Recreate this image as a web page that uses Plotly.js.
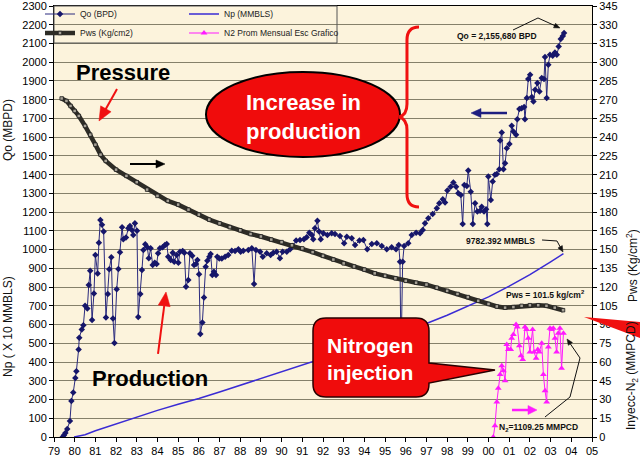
<!DOCTYPE html>
<html><head><meta charset="utf-8">
<script src="https://cdn.plot.ly/plotly-3.0.1.min.js"></script>
<style>html,body{margin:0;padding:0;background:#fff;}#chart{width:640px;height:458px;}</style>
</head><body><div id="chart"></div>
<script>
// ---- data (years as yy since 1900, e.g. 100.5 = mid 2000) ----
const xTickVals = [79,80,81,82,83,84,85,86,87,88,89,90,91,92,93,94,95,96,97,98,99,100,101,102,103,104,105];
const xTickText = ['79','80','81','82','83','84','85','86','87','88','89','90','91','92','93','94','95','96','97','98','99','00','01','02','03','04','05'];

// Qo (MBPD), left axis
const qoYear = [79.42,79.48,79.55,79.64,79.77,79.84,79.93,80.03,80.08,80.19,
80.22,80.34,80.42,80.50,80.61,80.68,80.75,80.84,80.93,81.00,
81.11,81.17,81.24,81.32,81.40,81.51,81.60,81.67,81.77,81.85,
81.92,82.03,82.11,82.19,82.29,82.35,82.48,82.59,82.67,82.76,
82.83,82.91,83.01,83.07,83.17,83.25,83.32,83.41,83.51,83.58,
83.67,83.77,83.87,83.96,84.03,84.12,84.25,84.36,84.45,84.52,
84.64,84.74,84.81,84.93,85.01,85.09,85.22,85.30,85.38,85.49,
85.57,85.68,85.77,85.86,85.93,86.01,86.07,86.17,86.25,86.33,
86.41,86.51,86.57,86.65,86.73,86.83,86.89,86.99,87.11,87.27,
87.42,87.59,87.75,87.91,88.02,88.15,88.39,88.56,88.67,88.76,
88.96,89.09,89.28,89.47,89.60,89.76,89.92,90.05,90.25,90.41,
90.54,90.70,90.89,91.08,91.21,91.34,91.46,91.53,91.61,91.73,
91.81,91.89,92.02,92.21,92.42,92.58,92.82,93.02,93.15,93.39,
93.55,93.76,93.95,94.14,94.36,94.60,94.84,95.08,95.32,95.53,
95.66,95.72,95.77,95.85,95.92,96.12,96.29,96.50,96.69,96.82,
96.93,97.09,97.30,97.50,97.62,97.79,97.90,98.01,98.17,98.30,
98.43,98.54,98.66,98.75,98.83,98.95,99.02,99.14,99.24,99.35,
99.46,99.59,99.67,99.78,99.88,99.94,99.99,100.11,100.20,100.31,
100.40,100.52,100.56,100.64,100.72,100.80,100.88,101.01,101.12,101.20,
101.33,101.39,101.49,101.60,101.72,101.76,101.85,101.92,102.01,102.09,
102.17,102.25,102.36,102.46,102.57,102.68,102.73,102.81,102.89,102.97,
103.10,103.21,103.30,103.39,103.49,103.59,103.65];
const qoVal = [0,9,21,43,86,192,237,315,351,467,
529,574,597,700,686,811,887,624,766,971,
873,1037,1158,1132,1096,638,763,895,959,633,
502,788,896,986,1119,1055,1064,1114,1126,1105,
1078,1141,1101,641,763,891,998,1028,1012,954,
1007,918,930,923,980,1007,1012,1025,1030,962,
944,983,935,971,930,989,993,983,802,838,
980,967,918,923,944,868,549,611,745,909,
941,962,976,864,882,864,962,953,953,962,
971,994,993,1002,989,994,998,1007,816,998,
989,962,980,971,983,989,954,989,989,1002,
1019,1048,1051,1055,1066,1090,1078,1055,1114,1154,
1096,1055,1087,1078,1087,1083,1073,1034,1069,1060,
1025,1048,1051,1002,1030,1034,1019,1002,1012,1002,
1025,935,420,935,1019,1034,1078,1090,1087,1105,
1141,1167,1190,1221,1247,1269,1251,1315,1336,1358,
1336,1301,1292,1137,1345,1340,1422,1309,1137,1247,
1203,1208,1229,1203,1215,1137,1390,1265,1363,1399,
1404,1429,1582,1625,1429,1461,1541,1564,1661,1630,
1613,1696,1750,1755,1761,1696,1809,1910,1933,1814,
1790,1853,1889,1844,1916,1910,2028,1809,1987,2040,
2035,2052,2040,2084,2124,2140,2156];

// Np (x 10 MMBLS), left axis
const npYear = [79.97,80.5,81.0,82.0,83.0,84.0,85.0,86.0,87.0,88.0,89.0,90.0,91.0,92.0,93.0,94.0,95.0,96.0,97.0,98.0,99.0,100.0,101.0,102.0,103.0,103.62];
const npVal  = [0,12,33,70,106,142,175,205,240,276,312,346,380,418,456,494,532,570,606,650,697,748,805,866,935,978];

// Pws (Kg/cm2), right axis
const pwsYear = [79.37,79.6,79.8,80.0,80.2,80.5,80.75,81.0,81.25,81.5,82.0,82.5,83.0,83.5,84.0,84.5,85.0,85.5,86.0,86.5,87.0,87.5,88.0,88.5,89.0,89.5,90.0,90.5,91.0,91.5,92.0,92.5,93.0,93.5,94.0,94.5,95.0,95.5,96.0,96.5,97.0,97.5,98.0,98.5,99.0,99.5,100.0,100.4,100.8,101.2,101.6,102.0,102.4,102.8,103.2,103.6];
const pwsVal  = [271,269,265,261,257,249,242,234,226,221,214,209,204,198,193,189,186,182,178,174,171,168,165.5,162.5,160.5,158,156,153.5,151,148,145,142,139,136.5,134,131,129,127,125,123.5,122,119.5,117,114.5,112,109,106.5,104.5,103.5,104,105,105.5,105.5,105,103.5,101.5];

// N2 monthly average injection (MMPCD), right axis scale
const n2Year = [100.23,100.31,100.40,100.47,100.56,100.64,100.72,100.80,100.88,100.96,
101.07,101.12,101.20,101.33,101.39,101.49,101.57,101.65,101.76,101.84,
101.92,102.00,102.13,102.20,102.30,102.38,102.45,102.57,102.65,102.73,
102.81,102.89,102.97,103.05,103.13,103.21,103.29,103.37,103.45,103.53,103.62];
const n2Val = [0,9,28,39,50,57,53,45,74,70,
70,79,82,90,88,73,65,62,88,86,
79,68,86,68,63,70,68,75,50,37,
28,72,87,86,87,79,68,83,87,55,83];

// ---- page geometry helpers (pixel -> paper) ----
const L=54, T=6, W=538, H=431;
function fx(px){return (px-L)/W;}
function fy(py){return (T+H-py)/H;}
function pt(px,py){return fx(px).toFixed(4)+','+fy(py).toFixed(4);}

const FONT = 'Arial, "Liberation Sans", sans-serif';

const traces = [
  {x: pwsYear, y: pwsVal, yaxis:'y2', name:'Pws (Kg/cm2)', mode:'lines+markers', legendrank:2,
   line:{color:'#2e2c26', width:4.5},
   marker:{symbol:'square', size:3.5, color:'#a8a398', line:{color:'#1a1a1a', width:0.8}}},
  {x: npYear, y: npVal, name:'Np (MMBLS)', mode:'lines', legend:'legend2', legendrank:1,
   line:{color:'#3a2bd4', width:1.5}},
  {x: qoYear, y: qoVal, name:'Qo (BPD)', mode:'lines+markers', legendrank:1,
   line:{color:'#2a2a7e', width:1},
   marker:{symbol:'diamond', size:5, color:'#16166a'}},
  {x: n2Year, y: n2Val, yaxis:'y2', name:'N2 Prom Mensual Esc Grafico', mode:'lines+markers', legend:'legend2', legendrank:2,
   line:{color:'#ff1aff', width:1},
   marker:{symbol:'triangle-up', size:6, color:'#ff1aff'}}
];

function P(path, style){ return Object.assign({type:'path', xref:'paper', yref:'paper', path:path}, style); }
// arrow as shaft + filled head (pixel inputs)
function arrowShapes(hx,hy,tx,ty,color,lw,hl,hw){
  const dx=hx-tx, dy=hy-ty, len=Math.hypot(dx,dy), ux=dx/len, uy=dy/len;
  const bx=hx-ux*hl, by=hy-uy*hl, nx=-uy, ny=ux;
  return [
    P('M'+pt(tx,ty)+' L'+pt(bx+ux*1,by+uy*1), {line:{color:color, width:lw}}),
    P('M'+pt(hx,hy)+' L'+pt(bx+nx*hw/2,by+ny*hw/2)+' L'+pt(bx-nx*hw/2,by-ny*hw/2)+' Z',
      {fillcolor:color, line:{color:color, width:0.5}})
  ];
}

const red = '#f00c0c';
const shapes = [
  // legend frame
  {type:'rect', xref:'paper', yref:'paper', x0:fx(54), x1:fx(337), y0:fy(43), y1:fy(6),
   line:{color:'#555', width:1}, fillcolor:'rgba(0,0,0,0)'},
  // ellipse
  {type:'circle', xref:'paper', yref:'paper', x0:fx(206), x1:fx(400), y0:fy(157), y1:fy(72),
   fillcolor:red, line:{color:'#000', width:2}},
  // brace
  P('M'+pt(419,27)+' Q'+pt(407,27)+' '+pt(407,40)+' L'+pt(407,104)+' Q'+pt(407,115)+' '+pt(399,117)+
    ' Q'+pt(407,119)+' '+pt(407,130)+' L'+pt(407,194)+' Q'+pt(407,207)+' '+pt(419,207), {line:{color:'#f01010', width:3}}),
  // nitrogen callout
  P('M'+pt(326,318)+' L'+pt(416,318)+' Q'+pt(429,318)+' '+pt(429,331)+' L'+pt(429,363)+' L'+pt(495,370)+
    ' L'+pt(429,383)+' L'+pt(429,384)+' Q'+pt(429,397)+' '+pt(416,397)+' L'+pt(326,397)+' Q'+pt(313,397)+' '+pt(313,384)+
    ' L'+pt(313,331)+' Q'+pt(313,318)+' '+pt(326,318)+' Z', {fillcolor:red, line:{color:'#2a0000', width:1.5}}),
  // red wedge at right
  P('M'+pt(584,317)+' L'+pt(640,322)+' L'+pt(640,338)+' Z', {fillcolor:'#f01010', line:{width:0}}),
  // leader lines (first segments)
  P('M'+pt(513,30)+' L'+pt(538,18), {line:{color:'#111', width:1}}),
  P('M'+pt(542,240)+' L'+pt(557,241), {line:{color:'#111', width:1}}),
  P('M'+pt(545,417)+' L'+pt(570,397)+' L'+pt(580,358), {line:{color:'#111', width:1}})
].concat(
  arrowShapes(99,121,117,89,'#f01010',2,14,12),
  arrowShapes(166,292,158,354,'#f01010',2,14,12),
  arrowShapes(165,164,130,164,'#000',2,9,8),
  arrowShapes(471,113,507,113,'#1e1e80',2.5,10,9),
  arrowShapes(537,410,512,410,'#ff1aff',2.5,9,9),
  arrowShapes(560,28,538,18,'#111',1,6,5),
  arrowShapes(563,252,557,241,'#111',1,6,5),
  arrowShapes(567,339,580,358,'#111',1,6,5)
);

function txt(px,py,text,size,color,extra){
  return Object.assign({xref:'paper', yref:'paper', x:fx(px), y:fy(py), xanchor:'center', yanchor:'middle',
    text:text, showarrow:false, font:{family:FONT, size:size, color:color}}, extra||{});
}

const annotations = [
  txt(123,73,'<b>Pressure</b>',22,'#000'),
  txt(150,378,'<b>Production</b>',22,'#000'),
  txt(303,117,'<b>Increase in</b><br><b>production</b>',22,'#fff'),
  txt(370,359,'<b>Nitrogen</b><br><b>injection</b>',21,'#fff'),
  txt(497,36,'<b>Qo = 2,155,680 BPD</b>',8.5,'#111'),
  txt(500,241,'<b>9782.392 MMBLS</b>',8.5,'#111'),
  txt(545,294,'<b>Pws = 101.5 kg/cm<sup>2</sup></b>',8.5,'#111'),
  txt(538,427,'<b>N<sub>2</sub>=1109.25 MMPCD</b>',8.5,'#111'),
  txt(8,130,'Qo (MBPD)',12,'#111',{textangle:-90}),
  txt(8,327,'Np ( X 10 MMBLS)',12,'#111',{textangle:-90}),
  txt(632,266,'Pws (Kg/cm<sup>2</sup>)',12,'#111',{textangle:-90}),
  txt(632,376,'Inyecc-N<sub>2</sub> (MMPCD)',12,'#111',{textangle:-90})
];

const axisFont = {family:FONT, size:11, color:'#000'};
const layout = {
  width:640, height:458,
  margin:{l:L, r:640-L-W, t:T, b:458-T-H, autoexpand:false},
  paper_bgcolor:'#fff', plot_bgcolor:'#fcf3dc',
  font:{family:FONT, color:'#000'},
  xaxis:{range:[79,105], tickvals:xTickVals, ticktext:xTickText, showgrid:false, zeroline:false,
    showline:true, linecolor:'#000', linewidth:1, mirror:true, ticks:'outside', ticklen:4, tickcolor:'#000',
    tickfont:axisFont, ticklabeloverflow:'allow'},
  yaxis:{range:[0,2300], tick0:0, dtick:100, showgrid:true, gridcolor:'#85806a', gridwidth:1, zeroline:false,
    showline:true, linecolor:'#000', ticks:'outside', ticklen:4, tickcolor:'#000', tickfont:axisFont,
    ticklabeloverflow:'allow'},
  yaxis2:{range:[0,345], tick0:0, dtick:15, overlaying:'y', side:'right', showgrid:false, zeroline:false,
    showline:true, linecolor:'#000', ticks:'outside', ticklen:4, tickcolor:'#000', tickfont:axisFont,
    ticklabeloverflow:'allow'},
  legend:{x:fx(40), y:fy(-0.5), xanchor:'left', yanchor:'top', bgcolor:'rgba(0,0,0,0)', borderwidth:0,
    font:{family:FONT, size:8.5, color:'#222'}},
  legend2:{x:fx(184), y:fy(-0.5), xanchor:'left', yanchor:'top', bgcolor:'rgba(0,0,0,0)', borderwidth:0,
    font:{family:FONT, size:8.5, color:'#222'}},
  shapes:shapes,
  annotations:annotations
};

Plotly.newPlot('chart', traces, layout, {displayModeBar:false, staticPlot:true});
</script>
</body></html>
